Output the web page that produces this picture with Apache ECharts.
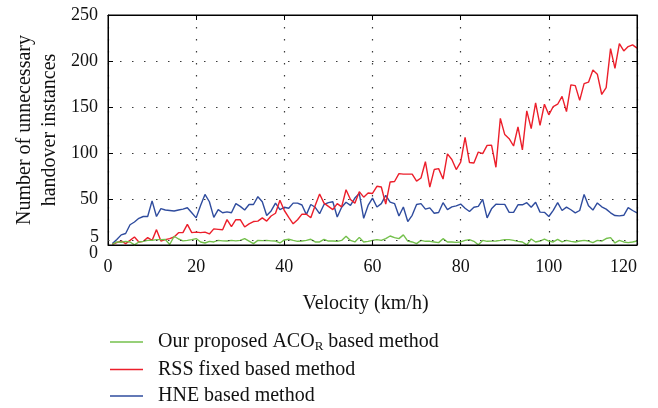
<!DOCTYPE html>
<html>
<head>
<meta charset="utf-8">
<script src="https://cdn.jsdelivr.net/npm/echarts@6/dist/echarts.min.js"></script>
<style>
  html, body { margin: 0; padding: 0; background: #ffffff; }
  #chart { width: 658px; height: 408px; }
</style>
</head>
<body>
<div id="chart"></div>
<script>
// Velocity samples (km/h)
const velocity = [
  1, 2, 3, 4, 5, 6, 7, 8, 9, 10, 11, 12, 13, 14, 15, 16, 17, 18, 19, 20,
  21, 22, 23, 24, 25, 26, 27, 28, 29, 30, 31, 32, 33, 34, 35, 36, 37, 38, 39, 40,
  41, 42, 43, 44, 45, 46, 47, 48, 49, 50, 51, 52, 53, 54, 55, 56, 57, 58, 59, 60,
  61, 62, 63, 64, 65, 66, 67, 68, 69, 70, 71, 72, 73, 74, 75, 76, 77, 78, 79, 80,
  81, 82, 83, 84, 85, 86, 87, 88, 89, 90, 91, 92, 93, 94, 95, 96, 97, 98, 99, 100,
  101, 102, 103, 104, 105, 106, 107, 108, 109, 110, 111, 112, 113, 114, 115, 116, 117, 118, 119, 120
];

// Our proposed ACO_R based method
const acoR = [
  0.8, 3.3, 3, 4, 3.3, 0.2, 3.3, 4, 5, 5, 5.8, 5.8, 6, 0.5, 9.5, 6.5, 4.5, 5, 5.8, 7,
  3.3, 2.2, 4, 3.3, 5, 4.5, 4.3, 5, 4.5, 5, 7, 4.3, 1.5, 5, 4.8, 5, 4.5, 4.3, 2.2, 5.5,
  6.2, 5, 4, 4.3, 5, 6.2, 3.3, 3.3, 6.2, 4.3, 4.3, 4, 5, 9.5, 5, 3.3, 8.3, 3.3, 4, 5,
  5.8, 5, 6.9, 9.8, 8, 6.9, 11, 4.3, 3.3, 1.5, 5, 4, 4, 3.3, 2.6, 6.9, 3.3, 3.3, 2.8, 3.3,
  5, 5.8, 4, 0.3, 5, 4, 4.2, 4.3, 5, 5.8, 5.8, 5, 4, 3.3, 0.2, 6.5, 3.3, 4.3, 6.5, 4.3,
  3.3, 6.2, 3.3, 5, 4, 3.3, 4.3, 5, 4.3, 2.6, 5, 4.3, 7, 8, 2.2, 5, 3.3, 2.6, 3.3, 4.3
];

// RSS fixed based method
const rssFixed = [
  0.8, 2.6, 4.4, 1.5, 5, 8.7, 3.3, 4, 8, 5, 16.7, 4.3, 5.8, 6.9, 8.7, 13.4, 13.4, 22.5, 13.4, 14,
  13.5, 14, 12, 17.5, 17, 16.5, 27.6, 20, 27.5, 27.5, 19.6, 23, 25.5, 26, 29.5, 26, 31.5, 34.5, 48.6, 37.5,
  30, 23, 27.5, 33.5, 33.5, 29.7, 43, 55.5, 45.5, 42, 38.5, 45, 41.5, 60, 49.5, 45.5, 58, 52, 56.5, 56,
  63.8, 63, 44.5, 68.5, 69, 77.6, 77, 77, 77, 69.5, 72.8, 90.5, 63, 82, 83, 71.7, 99, 93, 82, 90,
  117, 89.6, 89.2, 101, 99.3, 108.3, 108.6, 84.5, 137.7, 120, 115.6, 107.6, 128.3, 103.4, 145.8, 126.5, 154.5, 130, 153, 141.5,
  150.5, 153, 161.6, 145, 174, 173.2, 157.2, 175.4, 177, 190.3, 185.7, 163.6, 171, 213.5, 192, 219, 211, 215.7, 217.5, 214
];

// HNE based method
const hne = [
  1.5, 6, 11, 12.5, 22, 25, 29, 31, 31, 48, 31, 39.5, 38, 37.5, 37, 38, 39, 40.5, 35, 29.5,
  43, 55, 47, 30, 38.5, 35, 36, 35, 45, 42, 38, 44, 44, 52.5, 47, 32, 37, 45.5, 38.5, 41,
  40, 45.5, 45.5, 43.5, 33, 44, 41, 34, 44, 46, 47, 30.5, 41, 46.5, 43, 51, 56, 29, 43, 51,
  41.3, 45, 54, 46.7, 45, 31.5, 41.3, 25.5, 32.3, 44, 45, 39, 40.3, 34.5, 35.3, 46, 38.5, 41.5, 42.5, 44.5,
  40, 36.4, 41, 42, 49.5, 29.5, 39.3, 44.3, 44.2, 44.2, 35.5, 35.5, 43.7, 43.7, 46, 41, 46.5, 35.7, 35.5, 31,
  37.7, 46, 37.5, 41.2, 38.3, 35, 37.5, 55, 42.7, 38, 45.7, 41.5, 39, 35, 32, 31.7, 32.3, 40.6, 37.5, 35
];

// Axis tick values
const xTicks = [0, 20, 40, 60, 80, 100, 120];
const yTicks = [0, 50, 100, 150, 200, 250];
const yLowTicks = [0, 5];

const seriesNames = ['Our proposed ACO_R based method', 'RSS fixed based method', 'HNE based method'];
const seriesColors = ['#74c04c', '#ec1f2b', '#2f4c9e'];

const pairs = (ys) => velocity.map((v, i) => [v, ys[i]]);

const FONT = '"Liberation Serif", "Times New Roman", serif';
const dotted = { color: '#3a3a3a', width: 1.2, type: [1.5, 10.5] };
const inTicks = { show: true, inside: true, length: 5, lineStyle: { color: '#000', width: 1 } };

const chart = echarts.init(document.getElementById('chart'), null, { renderer: 'canvas' });

const option = {
  animation: false,
  backgroundColor: '#ffffff',
  textStyle: { fontFamily: FONT, color: '#111' },
  grid: {
    left: 108, right: 21, top: 15, bottom: 163, containLabel: false,
    show: true, borderColor: '#000', borderWidth: 1, backgroundColor: 'transparent', z: 5
  },
  legend: {
    orient: 'vertical',
    left: 110,
    top: 331,
    padding: 0,
    itemWidth: 33,
    itemHeight: 20,
    itemGap: 6.5,
    icon: 'path://M0,9.3 L33,9.3 L33,10.7 L0,10.7 Z',
    data: seriesNames,
    formatter: (name) => name === seriesNames[0]
      ? 'Our proposed ACO{sub|R} based method'
      : name,
    textStyle: {
      fontFamily: FONT,
      fontSize: 20,
      lineHeight: 20,
      color: '#111',
      padding: [0, 0, 0, 10],
      rich: {
        sub: { fontFamily: FONT, fontSize: 13, lineHeight: 20, padding: [9, 0, 0, 0], color: '#111' }
      }
    }
  },
  xAxis: [
    {
      type: 'value',
      min: xTicks[0],
      max: xTicks[xTicks.length - 1],
      interval: xTicks[1] - xTicks[0],
      name: 'Velocity (km/h)',
      nameLocation: 'middle',
      nameGap: 49,
      nameMoveOverlap: false,
      nameTextStyle: { fontFamily: FONT, fontSize: 20, color: '#111', padding: [0, 14, 0, 0] },
      axisLine: { show: true, onZero: false, lineStyle: { color: '#000', width: 1 } },
      axisTick: inTicks,
      axisLabel: { fontFamily: FONT, fontSize: 18, color: '#111', margin: 13, alignMaxLabel: 'right' },
      splitLine: { show: true, lineStyle: dotted }
    },
    {
      type: 'value',
      position: 'top',
      min: xTicks[0],
      max: xTicks[xTicks.length - 1],
      interval: xTicks[1] - xTicks[0],
      axisLine: { show: true, onZero: false, lineStyle: { color: '#000', width: 1 } },
      axisTick: inTicks,
      axisLabel: { show: false },
      splitLine: { show: false }
    }
  ],
  yAxis: [
    {
      type: 'value',
      min: yTicks[0],
      max: yTicks[yTicks.length - 1],
      interval: yTicks[1] - yTicks[0],
      name: 'Number of unnecessary\nhandover instances',
      nameLocation: 'middle',
      nameGap: 46,
      nameMoveOverlap: false,
      nameTextStyle: { fontFamily: FONT, fontSize: 20, lineHeight: 25, color: '#111' },
      axisLine: { show: true, onZero: false, lineStyle: { color: '#000', width: 1 } },
      axisTick: inTicks,
      axisLabel: {
        fontFamily: FONT, fontSize: 18, color: '#111', margin: 10,
        showMinLabel: true,
        hideOverlap: false,
        formatter: (v) => (v === yTicks[0] ? '{z|0}' : String(v)),
        rich: {
          z: { fontFamily: FONT, fontSize: 18, color: '#111', padding: [16, 0, 0, 0] }
        }
      },
      splitLine: { show: true, lineStyle: dotted }
    },
    {
      // label for the 5 mark just above the floor
      type: 'value',
      position: 'left',
      min: yTicks[0],
      max: yTicks[yTicks.length - 1],
      interval: yLowTicks[1] - yLowTicks[0],
      axisLine: { show: false },
      axisTick: { show: false },
      splitLine: { show: false },
      axisLabel: {
        fontFamily: FONT, fontSize: 18, color: '#111', margin: 9,
        hideOverlap: false,
        formatter: (v) => (v === yLowTicks[1] ? '{f|5}' : ''),
        rich: {
          f: { fontFamily: FONT, fontSize: 18, color: '#111', padding: [0, 0, 6, 0] }
        }
      }
    },
    {
      type: 'value',
      position: 'right',
      min: yTicks[0],
      max: yTicks[yTicks.length - 1],
      interval: yTicks[1] - yTicks[0],
      axisLine: { show: true, onZero: false, lineStyle: { color: '#000', width: 1 } },
      axisTick: inTicks,
      axisLabel: { show: false },
      splitLine: { show: false }
    }
  ],
  series: [
    {
      name: seriesNames[0],
      type: 'line',
      data: pairs(acoR),
      showSymbol: false,
      symbol: 'none',
      z: 4,
      lineStyle: { color: seriesColors[0], width: 1.4 },
      itemStyle: { color: seriesColors[0] },
      markLine: {
        silent: true,
        symbol: 'none',
        label: { show: false },
        lineStyle: dotted,
        data: [{ yAxis: yLowTicks[1] }]
      }
    },
    {
      name: seriesNames[1],
      type: 'line',
      data: pairs(rssFixed),
      showSymbol: false,
      symbol: 'none',
      z: 3,
      lineStyle: { color: seriesColors[1], width: 1.4 },
      itemStyle: { color: seriesColors[1] }
    },
    {
      name: seriesNames[2],
      type: 'line',
      data: pairs(hne),
      showSymbol: false,
      symbol: 'none',
      z: 2,
      lineStyle: { color: seriesColors[2], width: 1.4 },
      itemStyle: { color: seriesColors[2] }
    }
  ]
};

chart.setOption(option);
</script>
</body>
</html>
